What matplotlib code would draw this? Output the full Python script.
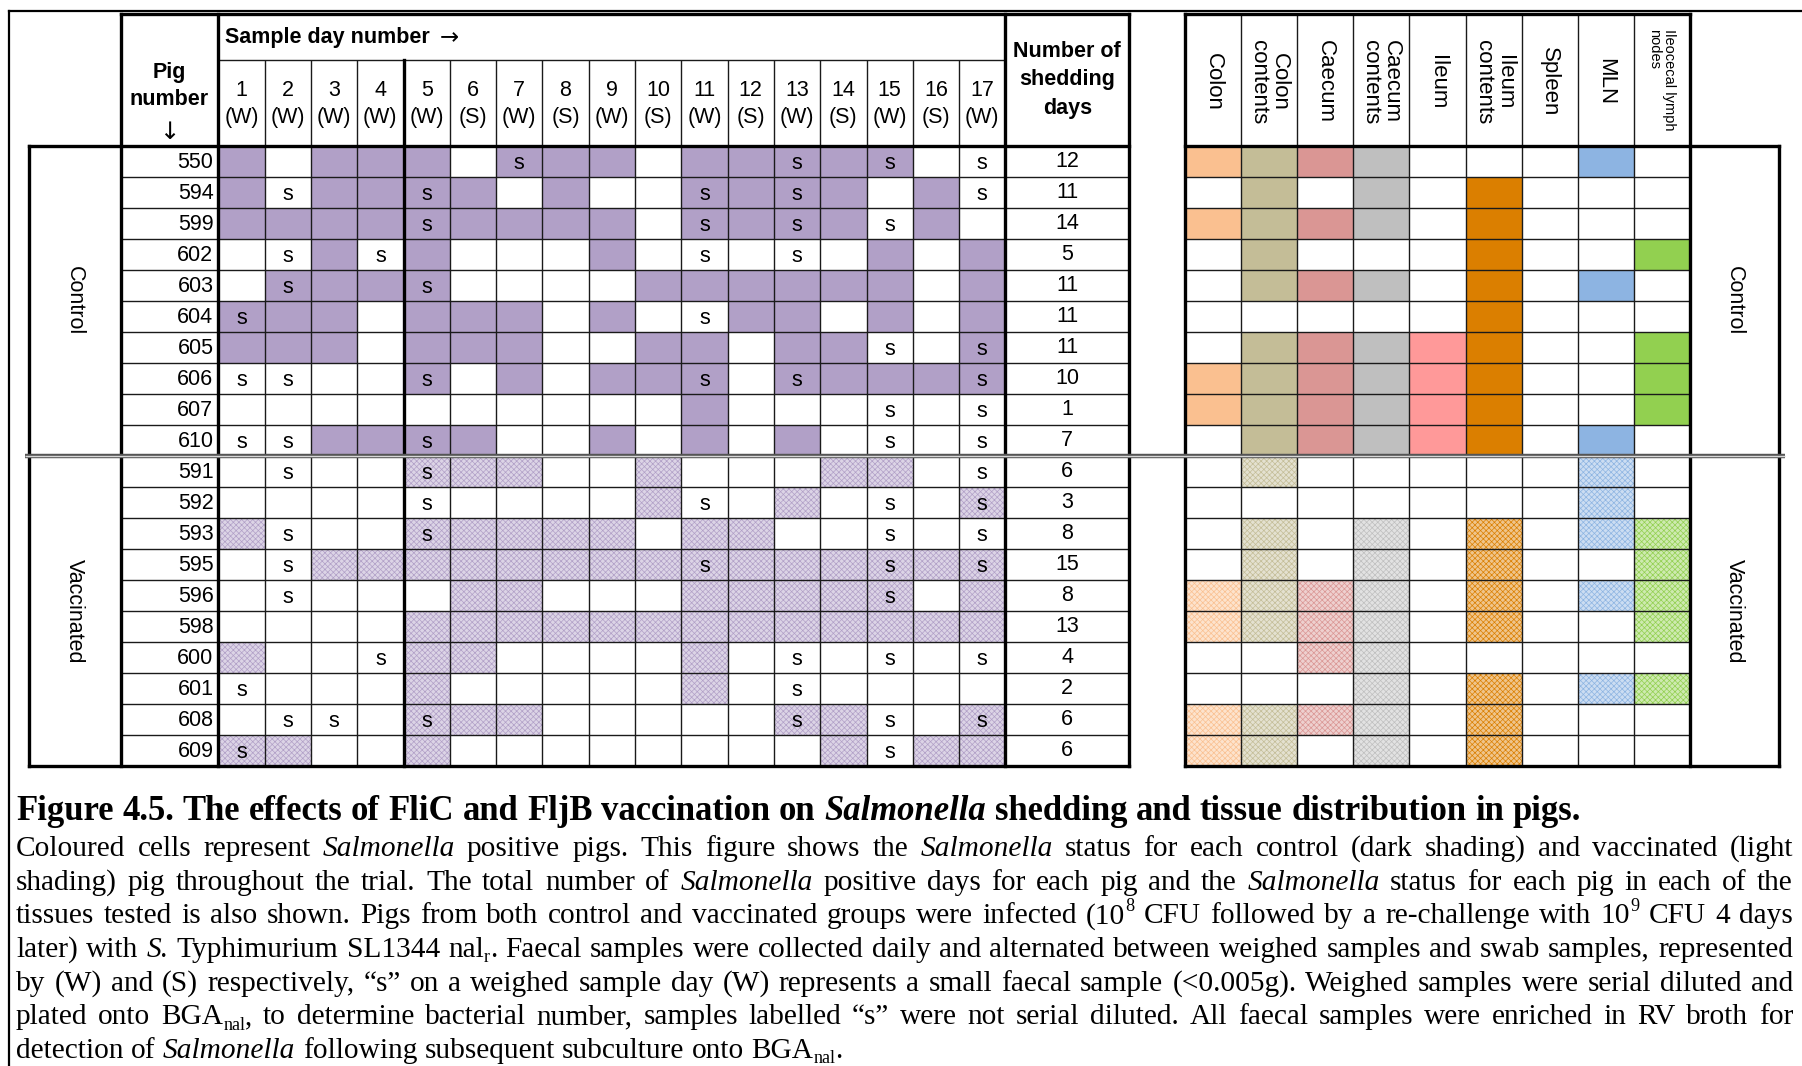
import re
import matplotlib
matplotlib.use('Agg')
import matplotlib.pyplot as plt
from matplotlib.patches import Rectangle
from matplotlib.colors import to_rgb

# ---------------------------------------------------------------- data
day_numbers = [str(d) for d in range(1, 18)]
day_types = ['W', 'W', 'W', 'W', 'W', 'S', 'W', 'S', 'W',
             'S', 'W', 'S', 'W', 'S', 'W', 'S', 'W']

# P = positive, S = positive + "s", s = negative + "s", . = negative
control_pigs = ['550', '594', '599', '602', '603', '604', '605', '606', '607', '610']
control_days = ['P.PPP.SPP.PPSPS.s',
                'PsPPSP.P..SPSP.Ps',
                'PPPPSPPPP.SPSPsP.',
                '.sPsP...P.s.s.P.P',
                '.SPPS....PPPPPP.P',
                'SPP.PPP.P.sPP.P.P',
                'PPP.PPP..PP.PPs.S',
                'ss..S.P.PPS.SPPPS',
                '..........P...s.s',
                'ssPPSP..P.P.P.s.s']
control_shedding = [12, 11, 14, 5, 11, 11, 11, 10, 1, 7]
control_tissue = ['111100010', '010101000', '111101000', '010001001', '011101010',
                  '000001000', '011111001', '111111001', '111111001', '011111010']

vacc_pigs = ['591', '592', '593', '595', '596', '598', '600', '601', '608', '609']
vacc_days = ['.s..SPP..P...PP.s',
             '....s....Ps.P.s.S',
             'Ps..SPPPP.PP..s.s',
             '.sPPPPPPPPSPPPSPS',
             '.s...PP...PPPPS.P',
             '....PPPPPPPPPPPPP',
             'P..sPP....P.s.s.s',
             's...P.....P.s....',
             '.ss.SPP.....SPs.S',
             'SP..P........PsPP']
vacc_shedding = [6, 3, 8, 15, 8, 13, 4, 2, 6, 6]
vacc_tissue = ['010000010', '000000010', '010101011', '010101001', '111101011',
               '111101001', '001100000', '000101011', '111101000', '110101000']

groups = ['Control', 'Vaccinated']
tissues = ['Colon', 'Colon\ncontents', 'Caecum', 'Caecum\ncontents', 'Ileum',
           'Ileum\ncontents', 'Spleen', 'MLN', 'Ileocecal lymph\nnodes']
tissue_colors = ['#FAC090', '#C4BD97', '#DA9694', '#BFBFBF', '#FF9999',
                 '#DB7F00', '#FFFFFF', '#8DB4E2', '#92D050']
shed_color = '#B1A0C7'

title = ('Figure 4.5. The effects of FliC and FljB vaccination on *Salmonella* '
         'shedding and tissue distribution in pigs.')
caption = [
    'Coloured cells represent *Salmonella* positive pigs. This figure shows the *Salmonella* '
    'status for each control (dark shading) and vaccinated (light',
    'shading) pig throughout the trial. The total number of *Salmonella* positive days for '
    'each pig and the *Salmonella* status for each pig in each of the',
    'tissues tested is also shown. Pigs from both control and vaccinated groups were '
    'infected (10^{8} CFU followed by a re-challenge with 10^{9} CFU 4 days',
    'later) with *S.* Typhimurium SL1344 nal_{r}. Faecal samples were collected daily and '
    'alternated between weighed samples and swab samples, represented',
    'by (W) and (S) respectively, \u201cs\u201d on a weighed sample day (W) represents a small '
    'faecal sample (<0.005g). Weighed samples were serial diluted and',
    'plated onto BGA_{nal}, to determine bacterial number, samples labelled \u201cs\u201d were '
    'not serial diluted. All faecal samples were enriched in RV broth for',
    'detection of *Salmonella* following subsequent subculture onto BGA_{nal}.',
]

# ---------------------------------------------------------------- layout (pixels)
W, H = 1802, 1066
TOP, SUB, BODY, RH = 14, 60, 146, 31.0
LAB_L, PIG_L, DAY_L, DW = 29, 120.5, 218.3, 46.3
NUM_L = DAY_L + 17 * DW
NUM_R = 1129
TIS_L, TW = 1185, 56.1
TIS_R = TIS_L + 9 * TW
RLAB_R = 1779
BOT = BODY + 20 * RH

sans = ['Liberation Sans', 'DejaVu Sans']
serif = ['Liberation Serif', 'DejaVu Serif']
FS = 15.5
thin = dict(color='#1a1a1a', lw=1.0, zorder=3, solid_capstyle='butt')
thick = dict(color='black', lw=2.4, zorder=4, solid_capstyle='projecting')

plt.rcParams['hatch.linewidth'] = 0.5

fig = plt.figure(figsize=(W / 100, H / 100), dpi=100)
ax = fig.add_axes([0, 0, 1, 1])
ax.set_xlim(0, W)
ax.set_ylim(H, 0)
ax.axis('off')


def tint(c, f=0.45):
    r, g, b = to_rgb(c)
    return (1 - f * (1 - r), 1 - f * (1 - g), 1 - f * (1 - b))


def cell(x, y, w, color, light):
    if light:
        ax.add_patch(Rectangle((x, y), w, RH, facecolor=tint(color), edgecolor=color,
                               lw=0, hatch='xxxxxx', zorder=1))
    else:
        ax.add_patch(Rectangle((x, y), w, RH, facecolor=color, lw=0, zorder=1))


# ---------------------------------------------------------------- body cells
for g, (pigs, days, shed, tis) in enumerate([
        (control_pigs, control_days, control_shedding, control_tissue),
        (vacc_pigs, vacc_days, vacc_shedding, vacc_tissue)]):
    for i in range(len(pigs)):
        y0 = BODY + (g * 10 + i) * RH
        yc = y0 + RH / 2
        ax.text(PIG_L + 93, yc + 1, pigs[i], ha='right', va='center',
                fontsize=FS, family=sans, zorder=5)
        for d, code in enumerate(days[i]):
            x0 = DAY_L + d * DW
            if code in 'PS':
                cell(x0, y0, DW, shed_color, g == 1)
            if code in 'Ss':
                ax.text(x0 + DW / 2, yc + 2, 's', ha='center', va='center',
                        fontsize=FS, family=sans, zorder=5)
        ax.text((NUM_L + NUM_R) / 2, yc, str(shed[i]), ha='center', va='center',
                fontsize=FS, family=sans, zorder=5)
        for t, flag in enumerate(tis[i]):
            if flag == '1':
                cell(TIS_L + t * TW, y0, TW, tissue_colors[t], g == 1)
    yc = BODY + (g * 10 + 5) * RH
    ax.text((LAB_L + PIG_L) / 2, yc, groups[g], rotation=-90, ha='center', va='center',
            fontsize=FS, family=sans, zorder=5)
    ax.text((TIS_R + RLAB_R) / 2, yc, groups[g], rotation=-90, ha='center', va='center',
            fontsize=FS, family=sans, zorder=5)

# ---------------------------------------------------------------- header text
ax.text((PIG_L + DAY_L) / 2, 86, 'Pig\nnumber', ha='center', va='center',
        fontsize=FS, fontweight='bold', family=sans, linespacing=1.35)
ax.text((PIG_L + DAY_L) / 2, 132, '\u2193', ha='center', va='center',
        fontsize=FS + 2, family=['DejaVu Sans'])
hdr = ax.text(DAY_L + 7, 37, 'Sample day number', ha='left', va='center',
              fontsize=FS, fontweight='bold', family=sans)
fig.canvas.draw()
hx = hdr.get_window_extent(fig.canvas.get_renderer()).x1
ax.text(hx + 10, 38, '\u2192', ha='left', va='center', fontsize=FS + 1,
        family=['DejaVu Sans'])
for d in range(17):
    xc = DAY_L + d * DW + DW / 2
    ax.text(xc, 90, day_numbers[d], ha='center', va='center', fontsize=FS, family=sans)
    ax.text(xc, 118, '(' + day_types[d] + ')', ha='center', va='center',
            fontsize=FS, family=sans)
ax.text((NUM_L + NUM_R) / 2, 80, 'Number of\nshedding\ndays', ha='center', va='center',
        fontsize=FS, fontweight='bold', family=sans, linespacing=1.45)
for t, name in enumerate(tissues):
    xc = TIS_L + t * TW + TW / 2
    if t == 8:
        ax.text(xc, 80, name, rotation=-90, ha='center', va='center', fontsize=10.5,
                family=sans, multialignment='left', linespacing=1.1)
    else:
        ax.text(xc, 82, name, rotation=-90, ha='center', va='center', fontsize=FS + 0.5,
                family=sans, multialignment='center', linespacing=1.0)

# ---------------------------------------------------------------- grid lines
for r in range(1, 20):
    y = BODY + r * RH
    if r == 10:
        continue
    ax.plot([PIG_L, NUM_R], [y, y], **thin)
    ax.plot([TIS_L, TIS_R], [y, y], **thin)
ax.plot([DAY_L, NUM_L], [SUB, SUB], **thin)
for d in range(1, 17):
    x = DAY_L + d * DW
    ax.plot([x, x], [SUB, BOT], **(thick if d == 4 else thin))
for t in range(1, 9):
    x = TIS_L + t * TW
    ax.plot([x, x], [TOP, BOT], **thin)

# thick borders
ax.plot([PIG_L, NUM_R], [TOP, TOP], **thick)
ax.plot([TIS_L, TIS_R], [TOP, TOP], **thick)
ax.plot([LAB_L, NUM_R], [BODY, BODY], **thick)
ax.plot([TIS_L, RLAB_R], [BODY, BODY], **thick)
ax.plot([LAB_L, NUM_R], [BOT, BOT], **thick)
ax.plot([TIS_L, RLAB_R], [BOT, BOT], **thick)
for x in [PIG_L, DAY_L, NUM_L, NUM_R, TIS_L, TIS_R]:
    ax.plot([x, x], [TOP, BOT], **thick)
for x in [LAB_L, RLAB_R]:
    ax.plot([x, x], [BODY, BOT], **thick)

# double line between the groups
ysep = BODY + 10 * RH
ax.plot([25, 1785], [ysep, ysep], color='#555555', lw=3.2, zorder=6, solid_capstyle='butt')
ax.plot([25, 1785], [ysep, ysep], color='#d8d8d8', lw=1.0, zorder=7, solid_capstyle='butt')

# outer frame (top and left)
ax.plot([9, W], [11, 11], color='black', lw=1.6)
ax.plot([9, 9], [11, H], color='black', lw=1.6)

# ---------------------------------------------------------------- caption
fig.canvas.draw()
renderer = fig.canvas.get_renderer()


def parse(word):
    segs = []
    for part in re.split(r'(\*[^*]+\*|_\{[^}]+\}|\^\{[^}]+\})', word):
        if not part:
            continue
        if part.startswith('*'):
            segs.append((part[1:-1], 'i'))
        elif part.startswith('_{'):
            segs.append((part[2:-1], 'sub'))
        elif part.startswith('^{'):
            segs.append((part[2:-1], 'sup'))
        else:
            segs.append((part, 'n'))
    return segs


def width_of(t):
    return t.get_window_extent(renderer).width


def space_width(size, weight):
    p1 = ax.text(0, 0, 'a a', fontsize=size, family=serif, fontweight=weight)
    p2 = ax.text(0, 0, 'aa', fontsize=size, family=serif, fontweight=weight)
    sw = width_of(p1) - width_of(p2)
    p1.remove()
    p2.remove()
    return sw


def draw_line(line, x0, x1, y, size, weight='normal', justify=True):
    em = size / 0.72
    words = []
    for w in line.split(' '):
        objs = []
        for s, kind in parse(w):
            fs = size * 0.62 if kind in ('sub', 'sup') else size
            dy = {'sub': 0.18 * em, 'sup': -0.42 * em}.get(kind, 0)
            t = ax.text(0, y + dy, s, fontsize=fs, family=serif, fontweight=weight,
                        fontstyle='italic' if kind == 'i' else 'normal',
                        ha='left', va='baseline')
            objs.append(t)
        words.append(objs)
    widths = [[width_of(t) for t in objs] for objs in words]
    total = sum(sum(w) for w in widths)
    if justify:
        gap = (x1 - x0 - total) / (len(words) - 1)
    else:
        gap = space_width(size, weight)
    x = x0
    for objs, ws in zip(words, widths):
        for t, wd in zip(objs, ws):
            t.set_x(x)
            x += wd
        x += gap


def natural_width(line, size, weight='normal'):
    arts = []
    x = 0
    for w in line.split(' '):
        for s, kind in parse(w):
            fs = size * 0.62 if kind in ('sub', 'sup') else size
            t = ax.text(0, 0, s, fontsize=fs, family=serif, fontweight=weight,
                        fontstyle='italic' if kind == 'i' else 'normal')
            x += width_of(t)
            arts.append(t)
    x += (len(line.split(' ')) - 1) * space_width(size, weight)
    for t in arts:
        t.remove()
    return x


# font sizes fitted to the widths in the reference
title_size = 20 * 1568 / natural_width(title, 20, 'bold')
body_size = 18 * 826 / natural_width(caption[-1], 18)

draw_line(title, 16, 1584, 820, title_size, 'bold', justify=False)
for k, line in enumerate(caption):
    draw_line(line, 16, 1793, 856 + k * 33.7, body_size, justify=(k < len(caption) - 1))

fig.savefig('out.png', dpi=100)
